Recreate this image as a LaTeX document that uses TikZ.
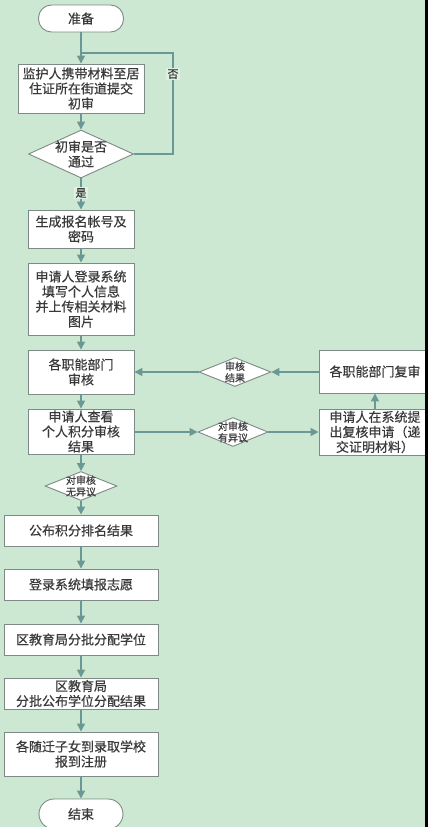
\documentclass[tikz,border=0pt]{standalone}
\usepackage{fontspec}
\setmainfont{Noto Sans CJK SC}[FakeBold=0.5]
\usetikzlibrary{shapes.geometric,arrows.meta}
\definecolor{bgc}{HTML}{CDE8D2}
\definecolor{linec}{HTML}{6A9995}
\definecolor{bordc}{HTML}{7D8A86}
\definecolor{txtc}{HTML}{3A3A3A}
\definecolor{lblbg}{HTML}{DDF0E1}
\tikzset{
  box/.style={draw=bordc, fill=white, line width=0.9pt, inner sep=0pt, align=center,
    text=txtc, font=\fontsize{13}{15}\selectfont},
  term/.style={box, rounded corners=13pt},
  dia/.style={draw=bordc, fill=white, line width=0.9pt, diamond, inner sep=0pt},
  dtxt/.style={align=center, text=txtc, inner sep=0pt, font=\fontsize{10}{11.5}\selectfont},
  flow/.style={draw=linec, line width=1.6pt, -{Triangle[length=8pt,width=8pt]}},
  plain/.style={draw=linec, line width=1.6pt},
  lbl/.style={fill=lblbg, text=txtc, inner sep=1.5pt, font=\fontsize{11}{12}\selectfont}
}
\begin{document}
\begin{tikzpicture}[x=1pt,y=-1pt]
\useasboundingbox (0,0) rectangle (428,827);
\fill[bgc] (0,0) rectangle (428,827);

% left column
\node[term, minimum width=85pt, minimum height=27pt] (start) at (81,18.5) {准备};
\node[box, minimum width=126pt, minimum height=49pt] (b1) at (81,88.5) {监护人携带材料至居\\住证所在街道提交\\初审};
\node[dia, minimum width=105pt, minimum height=48pt] (d1) at (81,154) {};
\node[dtxt, font=\fontsize{13}{15}\selectfont] at (d1) {初审是否\\通过};
\node[box, minimum width=106pt, minimum height=38pt] (b2) at (81,229) {生成报名帐号及\\密码};
\node[box, minimum width=106pt, minimum height=72pt] (b3) at (81,299) {申请人登录系统\\填写个人信息\\并上传相关材料\\图片};
\node[box, minimum width=106pt, minimum height=44pt] (b4) at (81,372) {各职能部门\\审核};
\node[box, minimum width=106pt, minimum height=45pt] (b5) at (81,431.5) {申请人查看\\个人积分审核\\结果};
\node[dia, minimum width=72pt, minimum height=29pt] (d4) at (81,486) {};
\node[dtxt] at (d4) {对审核\\无异议};
\node[box, minimum width=154pt, minimum height=31pt] (b6) at (81,530.5) {公布积分排名结果};
\node[box, minimum width=154pt, minimum height=31pt] (b7) at (81,584.5) {登录系统填报志愿};
\node[box, minimum width=154pt, minimum height=31pt] (b8) at (81,639.5) {区教育局分批分配学位};
\node[box, minimum width=154pt, minimum height=31pt] (b9) at (81,693.5) {区教育局\\分批公布学位分配结果};
\node[box, minimum width=154pt, minimum height=44pt] (b10) at (81,754) {各随迁子女到录取学校\\报到注册};
\node[term, minimum width=84pt, minimum height=30pt, rounded corners=15pt] (end) at (81,814) {结束};

% right side
\node[dia, minimum width=72pt, minimum height=29pt] (d2) at (235,372) {};
\node[dtxt] at (d2) {审核\\结果};
\node[dia, minimum width=70pt, minimum height=29pt] (d3) at (233,432) {};
\node[dtxt] at (d3) {对审核\\有异议};
\node[box, minimum width=112pt, minimum height=43pt] (r1) at (375,371.5) {各职能部门复审};
\node[box, minimum width=112pt, minimum height=46pt] (r2) at (375,432) {申请人在系统提\\出复核申请（递\\交证明材料）};

% connectors
\coordinate (j1) at (81,53);
\draw[flow] (start) -- (b1);
\draw[flow] (b1) -- (d1);
\draw[plain] (d1.east) -- (173,154) -- (173,53) -- (j1);
\node[lbl] (no) at (173,74) {否};
\draw[flow] (d1) -- (b2);
\node[lbl] (yes) at (81,193) {是};
\draw[flow] (b2) -- (b3);
\draw[flow] (b3) -- (b4);
\draw[flow] (b4) -- (b5);
\draw[flow] (b5) -- (d4);
\draw[flow] (d4) -- (b6);
\draw[flow] (b6) -- (b7);
\draw[flow] (b7) -- (b8);
\draw[flow] (b8) -- (b9);
\draw[flow] (b9) -- (b10);
\draw[flow] (b10) -- (end);
\draw[flow] (b5.east |- d3) -- (d3.west);
\draw[flow] (d3.east) -- (r2.west);
\draw[flow] (r2.north) -- (r1.south);
\draw[flow] (r1.west |- d2) -- (d2.east);
\draw[flow] (d2.west) -- (b4.east |- d2);

% right edge strip
\fill[black] (424.5,0) rectangle (428,827);
\end{tikzpicture}
\end{document}
